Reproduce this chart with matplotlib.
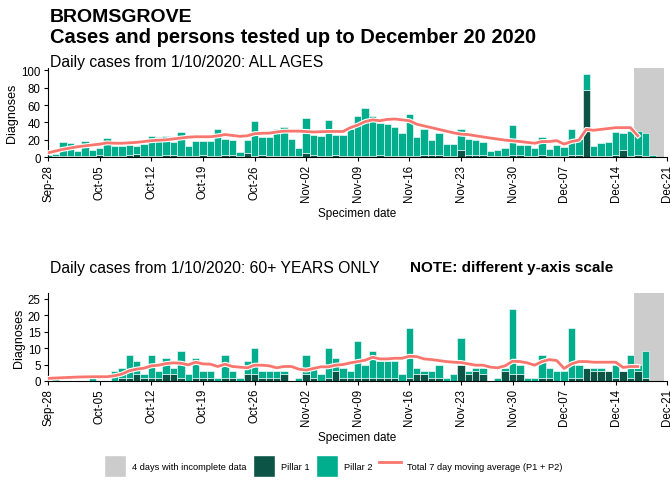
import numpy as np
import pandas as pd
import matplotlib
matplotlib.use("Agg")
import matplotlib.pyplot as plt
import matplotlib.patheffects as pe
from matplotlib.patches import Patch
from matplotlib.lines import Line2D

plt.rcParams['font.family'] = ['Liberation Sans', 'DejaVu Sans']

# one value per day, 28 Sep 2020 .. 20 Dec 2020
dates = pd.date_range('2020-09-28', '2020-12-20', freq='D')

# all ages
all_p1 = [0, 1, 1, 1, 1, 1, 1, 3, 1, 1, 1, 2, 4, 1, 1, 1, 2, 2, 1, 1, 1,
          3, 1, 1, 2, 2, 1, 5, 1, 2, 1, 1, 1, 1, 1, 5, 2, 1, 1, 2, 1, 1,
          1, 1, 1, 3, 1, 1, 1, 1, 1, 2, 2, 2, 1, 1, 8, 3, 3, 3, 1, 1, 1,
          3, 2, 1, 1, 3, 1, 1, 1, 2, 2, 78, 1, 1, 1, 2, 8, 1, 2, 1, 0, 0]
all_p2 = [2, 3, 16, 15, 6, 18, 7, 7, 21, 12, 12, 12, 9, 14, 23, 22, 22, 16, 28, 12, 18,
          16, 18, 31, 19, 18, 5, 15, 41, 21, 22, 32, 34, 20, 9, 40, 23, 23, 42, 24, 24, 31,
          47, 56, 47, 36, 37, 34, 27, 49, 22, 30, 18, 26, 14, 14, 25, 18, 17, 14, 6, 7, 9,
          34, 12, 13, 9, 20, 8, 13, 11, 31, 19, 18, 12, 15, 16, 27, 20, 29, 28, 27, 3, 0]
all_avg = [5, 7, 9, 10.5, 12, 13, 14, 15, 16.5, 16, 16, 16.5, 17, 18, 19, 19.5, 20, 21, 22, 23, 23.5,
           23.5, 23.5, 24.5, 26, 25, 24, 24.6, 27, 27.5, 27.7, 29, 30, 30, 30, 29.5, 29, 29.3, 29.6, 29.6, 29.6, 34,
           37, 41, 43, 42, 43.5, 44, 43, 42, 38, 36, 34, 32, 30, 28, 26.5, 26, 24.6, 23.3, 22, 20.8, 19.6,
           18.8, 18, 17, 16, 18, 18, 19, 15, 18, 19.6, 32, 31, 32, 33, 34, 34, 34, 24.6, np.nan, np.nan, np.nan]

# 60+ years
old_p1 = [0, 0, 0, 0, 0, 0, 0, 0, 0, 0, 1, 1, 2, 1, 1, 1, 2, 2, 1, 0, 1,
          1, 1, 0, 1, 1, 0, 2, 2, 1, 1, 1, 2, 0, 0, 2, 1, 0, 1, 3, 1, 1,
          1, 1, 1, 1, 1, 1, 0, 1, 2, 2, 1, 1, 0, 0, 5, 2, 3, 2, 0, 0, 3,
          2, 2, 0, 0, 1, 1, 0, 0, 1, 1, 4, 3, 3, 3, 1, 3, 1, 3, 1, 0, 0]
old_p2 = [0, 1, 0, 0, 0, 0, 1, 0, 0, 3, 3, 7, 4, 1, 7, 2, 5, 2, 8, 2, 6,
          2, 2, 1, 7, 2, 1, 4, 8, 2, 2, 2, 1, 0, 1, 6, 3, 2, 9, 4, 3, 2,
          11, 4, 8, 5, 5, 5, 2, 15, 2, 1, 2, 4, 1, 2, 8, 1, 1, 2, 0, 1, 1,
          20, 3, 1, 1, 7, 3, 3, 3, 15, 4, 0, 1, 1, 0, 4, 0, 7, 2, 8, 0, 0]
old_avg = [0.8, 0.9, 1.0, 1.1, 1.2, 1.25, 1.3, 1.3, 1.3, 1.6, 2.1, 3.1, 3.6, 3.9, 4.6, 4.8, 5.3, 5.5, 5.4, 4.9, 5.7,
           5.2, 5.1, 4.4, 5.1, 4.4, 4.2, 4.0, 4.8, 4.8, 4.6, 4.0, 4.4, 4.4, 3.6, 3.3, 3.8, 4.3, 4.3, 4.8, 5.0, 5.5,
           5.9, 6.3, 7.2, 6.7, 6.7, 6.9, 6.9, 7.5, 7.4, 6.7, 6.5, 6.2, 5.9, 5.7, 5.6, 5.2, 4.8, 4.8, 4.2, 4.0, 4.6,
           6.0, 5.9, 5.5, 4.8, 5.9, 6.5, 6.2, 3.8, 5.2, 5.9, 5.9, 5.7, 5.7, 5.7, 5.7, 4.1, 4.4, 4.4, np.nan, np.nan, np.nan]

ticks = pd.date_range('2020-09-28', '2020-12-21', freq='7D')
incomplete = (pd.Timestamp('2020-12-16 12:00'), pd.Timestamp('2020-12-20 12:00'))

c_p1 = '#0B5446'
c_p2 = '#00AE8E'
c_avg = '#F8766D'
c_grey = '#CCCCCC'

fig = plt.figure(figsize=(6.7, 4.85), dpi=100)


def panel(rect, p1, p2, avg, ymax, yticks):
    ax = fig.add_axes(rect)
    ax.axvspan(*incomplete, color=c_grey, lw=0, zorder=0)
    ax.bar(dates, p1, width=1, color=c_p1, edgecolor='white', linewidth=0.4, zorder=2)
    ax.bar(dates, p2, width=1, bottom=p1, color=c_p2, edgecolor='white', linewidth=0.4, zorder=2)
    ax.plot(dates, avg, color=c_avg, lw=2, zorder=3,
            path_effects=[pe.Stroke(linewidth=3.6, foreground='white'), pe.Normal()])
    ax.set_xlim(pd.Timestamp('2020-09-27 22:00'), pd.Timestamp('2020-12-21'))
    ax.set_ylim(0, ymax)
    ax.set_yticks(yticks)
    ax.set_xticks(ticks)
    ax.set_xticklabels([d.strftime('%b-%d') for d in ticks], rotation=90)
    ax.tick_params(labelsize=8.3, length=3, pad=2)
    ax.spines['top'].set_visible(False)
    ax.spines['right'].set_visible(False)
    ax.set_ylabel('Diagnoses', fontsize=9, labelpad=2)
    ax.set_xlabel('Specimen date', fontsize=8.5, labelpad=4)
    return ax


panel([0.071, 0.674, 0.925, 0.184], all_p1, all_p2, all_avg, 103, [0, 20, 40, 60, 80, 100])
panel([0.071, 0.2124, 0.925, 0.182], old_p1, old_p2, old_avg, 26.8, [0, 5, 10, 15, 20, 25])

fig.text(50 / 670, 1 - 17 / 485, 'BROMSGROVE', fontsize=14, fontweight='bold', va='center')
fig.text(50 / 670, 1 - 38 / 485, 'Cases and persons tested up to December 20 2020',
         fontsize=14.5, fontweight='bold', va='center')
fig.text(50 / 670, 1 - 62 / 485, 'Daily cases from 1/10/2020: ALL AGES', fontsize=11.3, va='center')
fig.text(50 / 670, 1 - 268 / 485, 'Daily cases from 1/10/2020: 60+ YEARS ONLY', fontsize=11.3, va='center')
fig.text(410 / 670, 1 - 268 / 485, 'NOTE: different y-axis scale', fontsize=11,
         fontweight='bold', va='center')

handles = [Patch(facecolor=c_grey, edgecolor='white'),
           Patch(facecolor=c_p1, edgecolor='white'),
           Patch(facecolor=c_p2, edgecolor='white'),
           Line2D([], [], color=c_avg, lw=2)]
labels = ['4 days with incomplete data', 'Pillar 1', 'Pillar 2', 'Total 7 day moving average (P1 + P2)']
fig.legend(handles, labels, loc='center', bbox_to_anchor=(0.497, 1 - 467 / 485), ncol=4,
           frameon=False, fontsize=6.7, handlelength=2.4, handleheight=3.4,
           columnspacing=0.65, handletextpad=0.65)

fig.savefig('out.png', dpi=100)
